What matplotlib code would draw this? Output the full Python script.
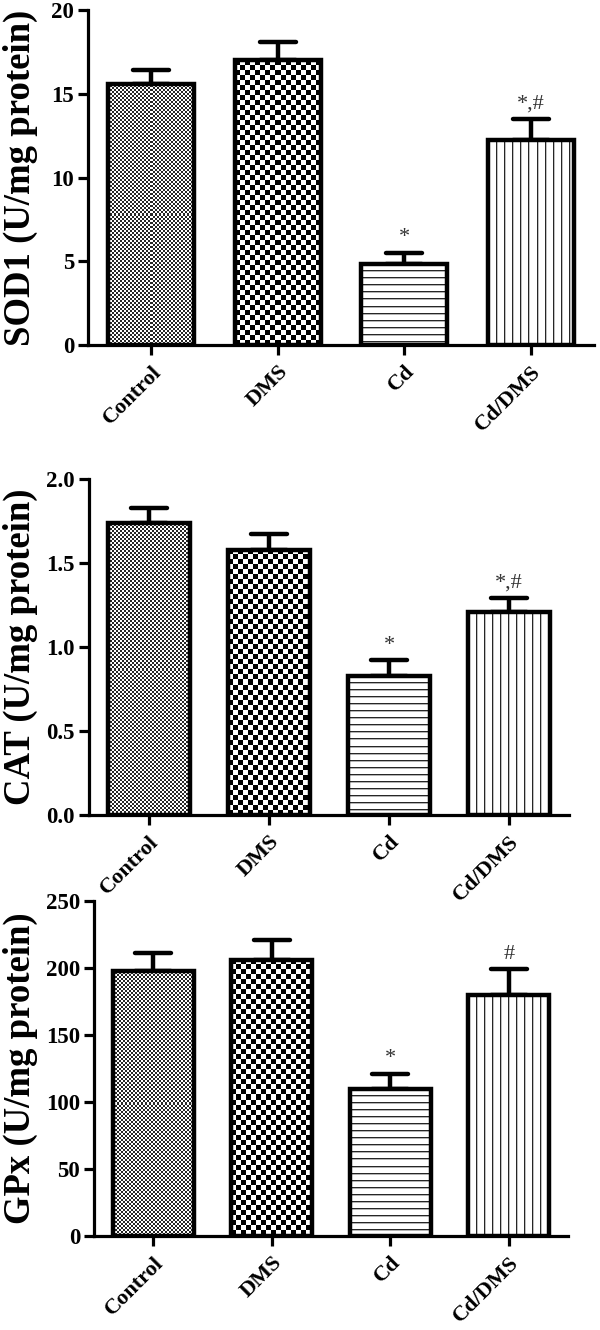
import numpy as np
import matplotlib
matplotlib.use('Agg')
import matplotlib.pyplot as plt
from matplotlib.markers import MarkerStyle

groups = ['Control', 'DMS', 'Cd', 'Cd/DMS']
sod1_mean = [15.6, 17.0, 4.85, 12.25]
sod1_sem = [0.8, 1.1, 0.65, 1.25]
cat_mean = [1.74, 1.58, 0.83, 1.21]
cat_sem = [0.09, 0.09, 0.09, 0.08]
gpx_mean = [198, 206, 110, 180]
gpx_sem = [13, 15, 11, 19]
sod1_marks = ['', '', '*', '*,#']
cat_marks = ['', '', '*', '*,#']
gpx_marks = ['', '', '*', '#']
sod1_ticks = [0, 5, 10, 15, 20]
cat_ticks = [0.0, 0.5, 1.0, 1.5, 2.0]
gpx_ticks = [0, 50, 100, 150, 200, 250]

W, H = 600, 1330
DPI = 100
SERIF = ['Liberation Serif', 'DejaVu Serif']
plt.rcParams['font.family'] = SERIF

fig = plt.figure(figsize=(W / DPI, H / DPI), dpi=DPI)

patterns = ['fine', 'coarse', 'hlines', 'vlines']


def pattern_array(kind, nx, ny):
    i, j = np.mgrid[0:ny, 0:nx]
    if kind == 'fine':
        a = ((i // 2 + j // 2) % 2).astype(float)
        a = 0.15 + 0.85 * a
    elif kind == 'coarse':
        a = ((i // 5 + j // 5) % 2).astype(float)
    elif kind == 'hlines':
        a = np.ones((ny, nx))
        a[i % 7 == 0] = 0.15
        a[i % 7 == 1] = 0.7
    else:
        a = np.ones((ny, nx))
        a[j % 8 == 0] = 0.15
        a[j % 8 == 1] = 0.75
    return a


def panel(rect_px, means, sems, marks, ticks, ticklabels, ylabel):
    left, right, top, bottom = rect_px
    ax = fig.add_axes([left / W, (H - bottom) / H, (right - left) / W, (bottom - top) / H])
    x = np.arange(len(groups))
    width = 0.68
    ymax = ticks[-1]
    ax.set_xlim(-0.5, len(groups) - 0.5)
    ax.set_ylim(0, ymax)
    px_x = (right - left) / len(groups)
    px_y = (bottom - top) / ymax

    eb = ax.errorbar(x, means, yerr=[np.zeros(len(x)), sems], fmt='none', ecolor='black',
                     elinewidth=3.2, capsize=13, capthick=3.2, zorder=1)
    for cl in eb[1]:
        cl.set_marker(MarkerStyle('_', capstyle='round'))
    bars = ax.bar(x, means, width, facecolor='white', edgecolor='none', zorder=2)
    for b, kind in zip(bars, patterns):
        nx = int(round(width * px_x))
        ny = int(round(b.get_height() * px_y))
        arr = pattern_array(kind, nx, ny)
        im = ax.imshow(arr, cmap='gray', vmin=0, vmax=1, interpolation='nearest',
                       extent=(b.get_x(), b.get_x() + width, 0, b.get_height()),
                       aspect='auto', origin='upper', zorder=2.5)
        im.set_clip_path(b)
    ax.bar(x, means, width, fill=False, edgecolor='black', linewidth=3.2, zorder=3)
    ax.set_xlim(-0.5, len(groups) - 0.5)
    ax.set_ylim(0, ymax)

    for xi, m, s, t in zip(x, means, sems, marks):
        if t:
            ax.annotate(t, (xi, m + s), xytext=(0, 4), textcoords='offset points',
                        ha='center', va='bottom', fontsize=16, color='#333333',
                        family=SERIF, zorder=4)

    for sp in ['top', 'right']:
        ax.spines[sp].set_visible(False)
    for sp in ['left', 'bottom']:
        ax.spines[sp].set_linewidth(2.3)
    ax.set_yticks(ticks)
    ax.set_yticklabels(ticklabels, fontsize=16.5, fontweight='bold')
    ax.set_xticks(x)
    ax.set_xticklabels(groups, fontsize=16, fontweight='bold', rotation=45,
                       ha='right', va='top', rotation_mode='anchor')
    ax.tick_params(axis='both', length=7, width=2.3, direction='out', pad=3)
    ax.tick_params(axis='x', pad=5)
    ax.set_facecolor('none')
    fig.text(20 / W, (H - (top + bottom) / 2) / H, ylabel, rotation=90, ha='center',
             va='center', fontsize=26.5, fontweight='bold', family=SERIF)
    return ax


panel((88, 594, 10, 345), sod1_mean, sod1_sem, sod1_marks, sod1_ticks,
      [str(t) for t in sod1_ticks], 'SOD1 (U/mg protein)')
panel((89, 569, 479, 815), cat_mean, cat_sem, cat_marks, cat_ticks,
      ['%.1f' % t for t in cat_ticks], 'CAT (U/mg protein)')
panel((94, 568, 901, 1236), gpx_mean, gpx_sem, gpx_marks, gpx_ticks,
      [str(t) for t in gpx_ticks], 'GPx (U/mg protein)')

fig.savefig('out.png', dpi=DPI, facecolor='white')
